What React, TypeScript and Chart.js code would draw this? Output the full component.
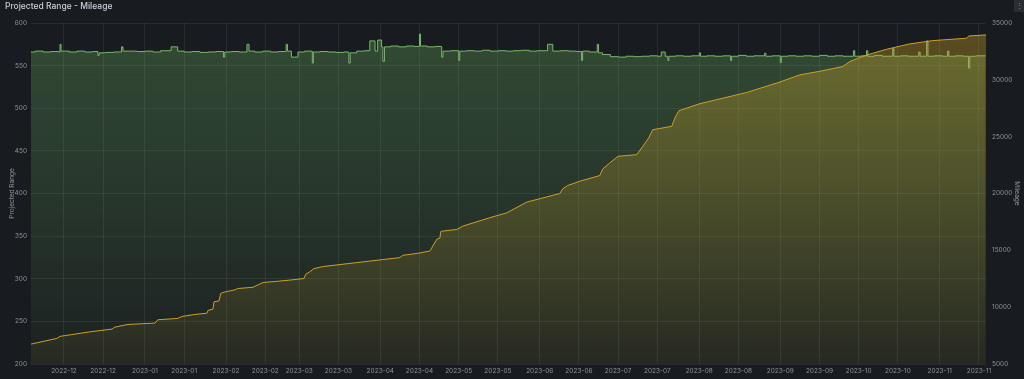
import React, { useEffect, useRef } from "react";
import Chart from "chart.js/auto";

// ---- Data ----
const TITLE = "Projected Range - Mileage";
const BASE_DATE = Date.UTC(2022, 11, 1); // 2022-12-01 = day 0

const xTickDates = [
  "2022-12-01", "2022-12-16", "2023-01-01", "2023-01-16", "2023-02-01", "2023-02-16",
  "2023-03-01", "2023-03-16", "2023-04-01", "2023-04-16", "2023-05-01", "2023-05-16",
  "2023-06-01", "2023-06-16", "2023-07-01", "2023-07-16", "2023-08-01", "2023-08-16",
  "2023-09-01", "2023-09-16", "2023-10-01", "2023-10-16", "2023-11-01", "2023-11-16",
];

// Projected Range (left axis), x = days since 2022-12-01
const rangeDays = [
  -12.6, -11, -8, -5, -2, -1.5, -1.1, 2, 5, 8, 11, 13, 13.5, 16, 19, 22, 22.6, 25, 28, 31, 34, 37,
  41, 43.5, 46, 49, 52, 55, 58, 61, 61.5, 64, 67, 70, 70.8, 73, 76, 79, 82, 85, 85.5, 87, 89.5,
  92, 95, 95.4, 98, 101, 104, 107, 109, 109.5, 112, 115, 117, 119, 120, 121.5, 122, 122.6, 125,
  128, 131, 134, 136, 136.4, 139, 142, 144.5, 145, 148, 151, 151.4, 154, 157, 160, 163, 166, 169,
  172, 175, 178, 181, 185, 187, 190, 193, 196, 198, 198.4, 201, 204, 204.5, 206, 209, 212, 215,
  218, 221, 224, 227, 228.5, 230, 231, 231.4, 234, 237, 240, 243, 243.5, 246, 249, 252, 255,
  255.4, 258, 261, 264, 268, 268.5, 271, 274, 274.4, 277, 280, 283, 286, 289, 292, 295, 298, 302,
  302.5, 305, 307, 307.5, 310, 313, 317, 317.5, 320, 323, 327, 327.5, 330, 330.5, 333, 336, 338,
  338.5, 341, 344, 346, 346.5, 349, 352.5,
];
const rangeValues = [
  566, 567, 566, 566.5, 566, 575, 567, 566, 567, 566, 566.5, 562, 565, 565.5, 566, 572, 567, 567,
  566.5, 567, 566, 567.5, 572, 567, 566, 566.5, 565.5, 566, 566.5, 560, 566, 566.5, 566, 575, 567,
  566, 567, 566, 566.5, 575, 567, 560, 566, 567, 553, 566, 566.5, 566, 565.5, 566, 553, 565, 567,
  567.5, 579, 567, 580, 572, 555, 572, 573, 572, 573, 572.5, 587, 573, 572, 572.5, 560, 567, 567.5,
  556, 567, 567.5, 567, 568, 567, 567.5, 567, 567.5, 568, 567, 567.5, 575, 567, 567.5, 567, 566.5,
  556, 567, 566, 575, 565, 563, 560.5, 560, 561, 560.5, 561, 561.5, 561, 566, 561, 556, 561, 561.5,
  561, 561.5, 565, 561, 561.5, 561, 561.5, 556, 561, 562, 561, 561.5, 564.5, 561, 561.5, 553.5, 561,
  561.5, 561, 561.5, 561, 562, 561, 561.5, 561, 567.5, 561, 561.5, 567.5, 561, 562, 561, 570, 561,
  561.5, 561, 566, 561, 579, 561, 561.5, 561, 567, 561, 561.5, 561, 547, 561, 561.5, 561,
];

// Mileage (right axis)
const mileageDays = [
  -12.6, -2.7, -1.5, 4.2, 9.9, 18.4, 19.5, 24.5, 34.8, 35.9, 43.6, 45.1, 50.1, 54.7, 55.1, 57,
  57.4, 59.3, 60, 61.6, 65.4, 66.5, 72.3, 76.1, 81.8, 87.2, 91.8, 92.5, 94, 95.6, 99, 112, 128.5,
  129.6, 135.4, 140, 141.1, 142.6, 143.8, 144.2, 150.3, 152.6, 162.9, 169.4, 177, 189.7, 190.8,
  192.7, 197.3, 205, 206.1, 208.8, 211.9, 219.1, 221.4, 223.7, 225.2, 232.5, 233.7, 235.2, 243.2,
  261.2, 273.8, 281.5, 289.1, 297.9, 300.6, 307.1, 314.7, 323.5, 332.3, 345.3, 346.1, 352.7,
];
const mileageValues = [
  6750, 7250, 7430, 7630, 7830, 8070, 8245, 8480, 8600, 8890, 9010, 9180, 9360, 9470, 9710, 9830,
  10470, 10550, 11220, 11340, 11520, 11640, 11750, 12170, 12280, 12400, 12520, 12900, 13100, 13390,
  13570, 13920, 14360, 14560, 14740, 14940, 15380, 15970, 16080, 16670, 16840, 17130, 17870, 18300,
  19240, 20000, 20410, 20700, 21080, 21580, 22160, 22690, 23270, 23420, 24150, 24890, 25610, 25910,
  26640, 27280, 27900, 28890, 29800, 30440, 30750, 31170, 31610, 32190, 32690, 33160, 33450, 33660,
  33860, 33950,
];

const X_MIN = -12.6;
const X_MAX = 352.7;

// ---- helpers ----
const dayOf = (s: string) => {
  const [y, m, d] = s.split("-").map(Number);
  return Math.round((Date.UTC(y, m - 1, d) - BASE_DATE) / 86400000);
};
const xTicks = xTickDates.map((s) => ({ value: dayOf(s), label: s.slice(0, 7) }));

const BG = "#181b1f";
const TEXT = "#ccccdc";
const TICK = "rgba(204,204,220,0.65)";
const GRID = "rgba(204,204,220,0.09)";
const GREEN = "rgb(122,184,108)";
const YELLOW = "rgb(204,160,38)";
const FONT = "Inter, 'Noto Sans', sans-serif";

function gradient(chart: any, rgb: string, top: number, bottom: number) {
  const { ctx, chartArea } = chart;
  if (!chartArea) return "transparent";
  const g = ctx.createLinearGradient(0, chartArea.top, 0, chartArea.bottom);
  g.addColorStop(0, `rgba(${rgb},${top})`);
  g.addColorStop(1, `rgba(${rgb},${bottom})`);
  return g;
}

export default function App() {
  const ref = useRef<HTMLCanvasElement | null>(null);

  useEffect(() => {
    if (!ref.current) return;
    const rangeData = rangeDays.map((x, i) => ({ x, y: rangeValues[i] }));
    const mileageData = mileageDays.map((x, i) => ({ x, y: mileageValues[i] }));
    const tickFont = { family: FONT, size: 6.5 };

    const chart = new Chart(ref.current, {
      type: "line",
      data: {
        datasets: [
          {
            label: "Mileage",
            data: mileageData,
            yAxisID: "y1",
            borderColor: YELLOW,
            borderWidth: 1,
            pointRadius: 0,
            tension: 0,
            fill: "start",
            order: 0,
            backgroundColor: (c: any) => gradient(c.chart, "214,170,40", 0.36, 0.06),
          },
          {
            label: "Projected Range",
            data: rangeData,
            yAxisID: "y",
            borderColor: GREEN,
            borderWidth: 1,
            pointRadius: 0,
            stepped: true,
            fill: "start",
            order: 1,
            backgroundColor: (c: any) => gradient(c.chart, "115,191,105", 0.3, 0.04),
          },
        ],
      },
      options: {
        animation: false,
        responsive: false,
        maintainAspectRatio: false,
        layout: { padding: { top: 23, left: 0, right: 0, bottom: 0 } },
        plugins: {
          legend: { display: false },
          tooltip: { enabled: false },
          title: { display: false },
        },
        scales: {
          x: {
            type: "linear",
            min: X_MIN,
            max: X_MAX,
            afterBuildTicks: (s: any) => {
              s.ticks = xTicks.map((t) => ({ value: t.value }));
            },
            afterFit: (s: any) => {
              s.height = 15;
            },
            ticks: {
              autoSkip: false,
              maxRotation: 0,
              minRotation: 0,
              padding: 3,
              color: TICK,
              font: tickFont,
              callback: (v: any) => {
                const t = xTicks.find((k) => k.value === v);
                return t ? t.label : "";
              },
            },
            grid: { color: GRID, drawTicks: false },
            border: { display: false },
          },
          y: {
            position: "left",
            min: 200,
            max: 600,
            afterFit: (s: any) => {
              s.width = 31;
            },
            ticks: { stepSize: 50, padding: 4, color: TICK, font: tickFont, callback: (v: any) => String(v) },
            grid: { color: GRID, drawTicks: false },
            border: { display: false },
            title: {
              display: true,
              text: "Projected Range",
              color: TICK,
              font: tickFont,
              padding: { top: 8, bottom: 0 },
            },
          },
          y1: {
            position: "right",
            min: 5000,
            max: 35000,
            afterFit: (s: any) => {
              s.width = 38;
            },
            ticks: { stepSize: 5000, padding: 6, color: TICK, font: tickFont, callback: (v: any) => String(v) },
            grid: { display: false, drawTicks: false },
            border: { display: false },
            title: {
              display: true,
              text: "Mileage",
              color: TICK,
              font: tickFont,
              padding: { top: 3, bottom: 0 },
            },
          },
        },
      },
    } as any);
    return () => chart.destroy();
  }, []);

  return (
    <div
      style={{
        position: "fixed",
        left: 0,
        top: 0,
        width: 1024,
        height: 379,
        background: BG,
        overflow: "hidden",
      }}
    >
      <canvas ref={ref} width={1024} height={379} style={{ display: "block", position: "absolute", left: 0, top: 0 }} />
      <div
        style={{
          position: "absolute",
          left: 5,
          top: 0,
          fontFamily: FONT,
          fontSize: 8.5,
          lineHeight: "12px",
          fontWeight: 500,
          color: TEXT,
          whiteSpace: "nowrap",
        }}
      >
        {TITLE}
      </div>
      <div
        style={{
          position: "absolute",
          right: 0,
          top: 0,
          width: 10,
          height: 12,
          background: "#2a2d33",
          color: TICK,
          fontFamily: FONT,
          fontSize: 7,
          lineHeight: "12px",
          textAlign: "center",
        }}
      >
        ⋮
      </div>
    </div>
  );
}
